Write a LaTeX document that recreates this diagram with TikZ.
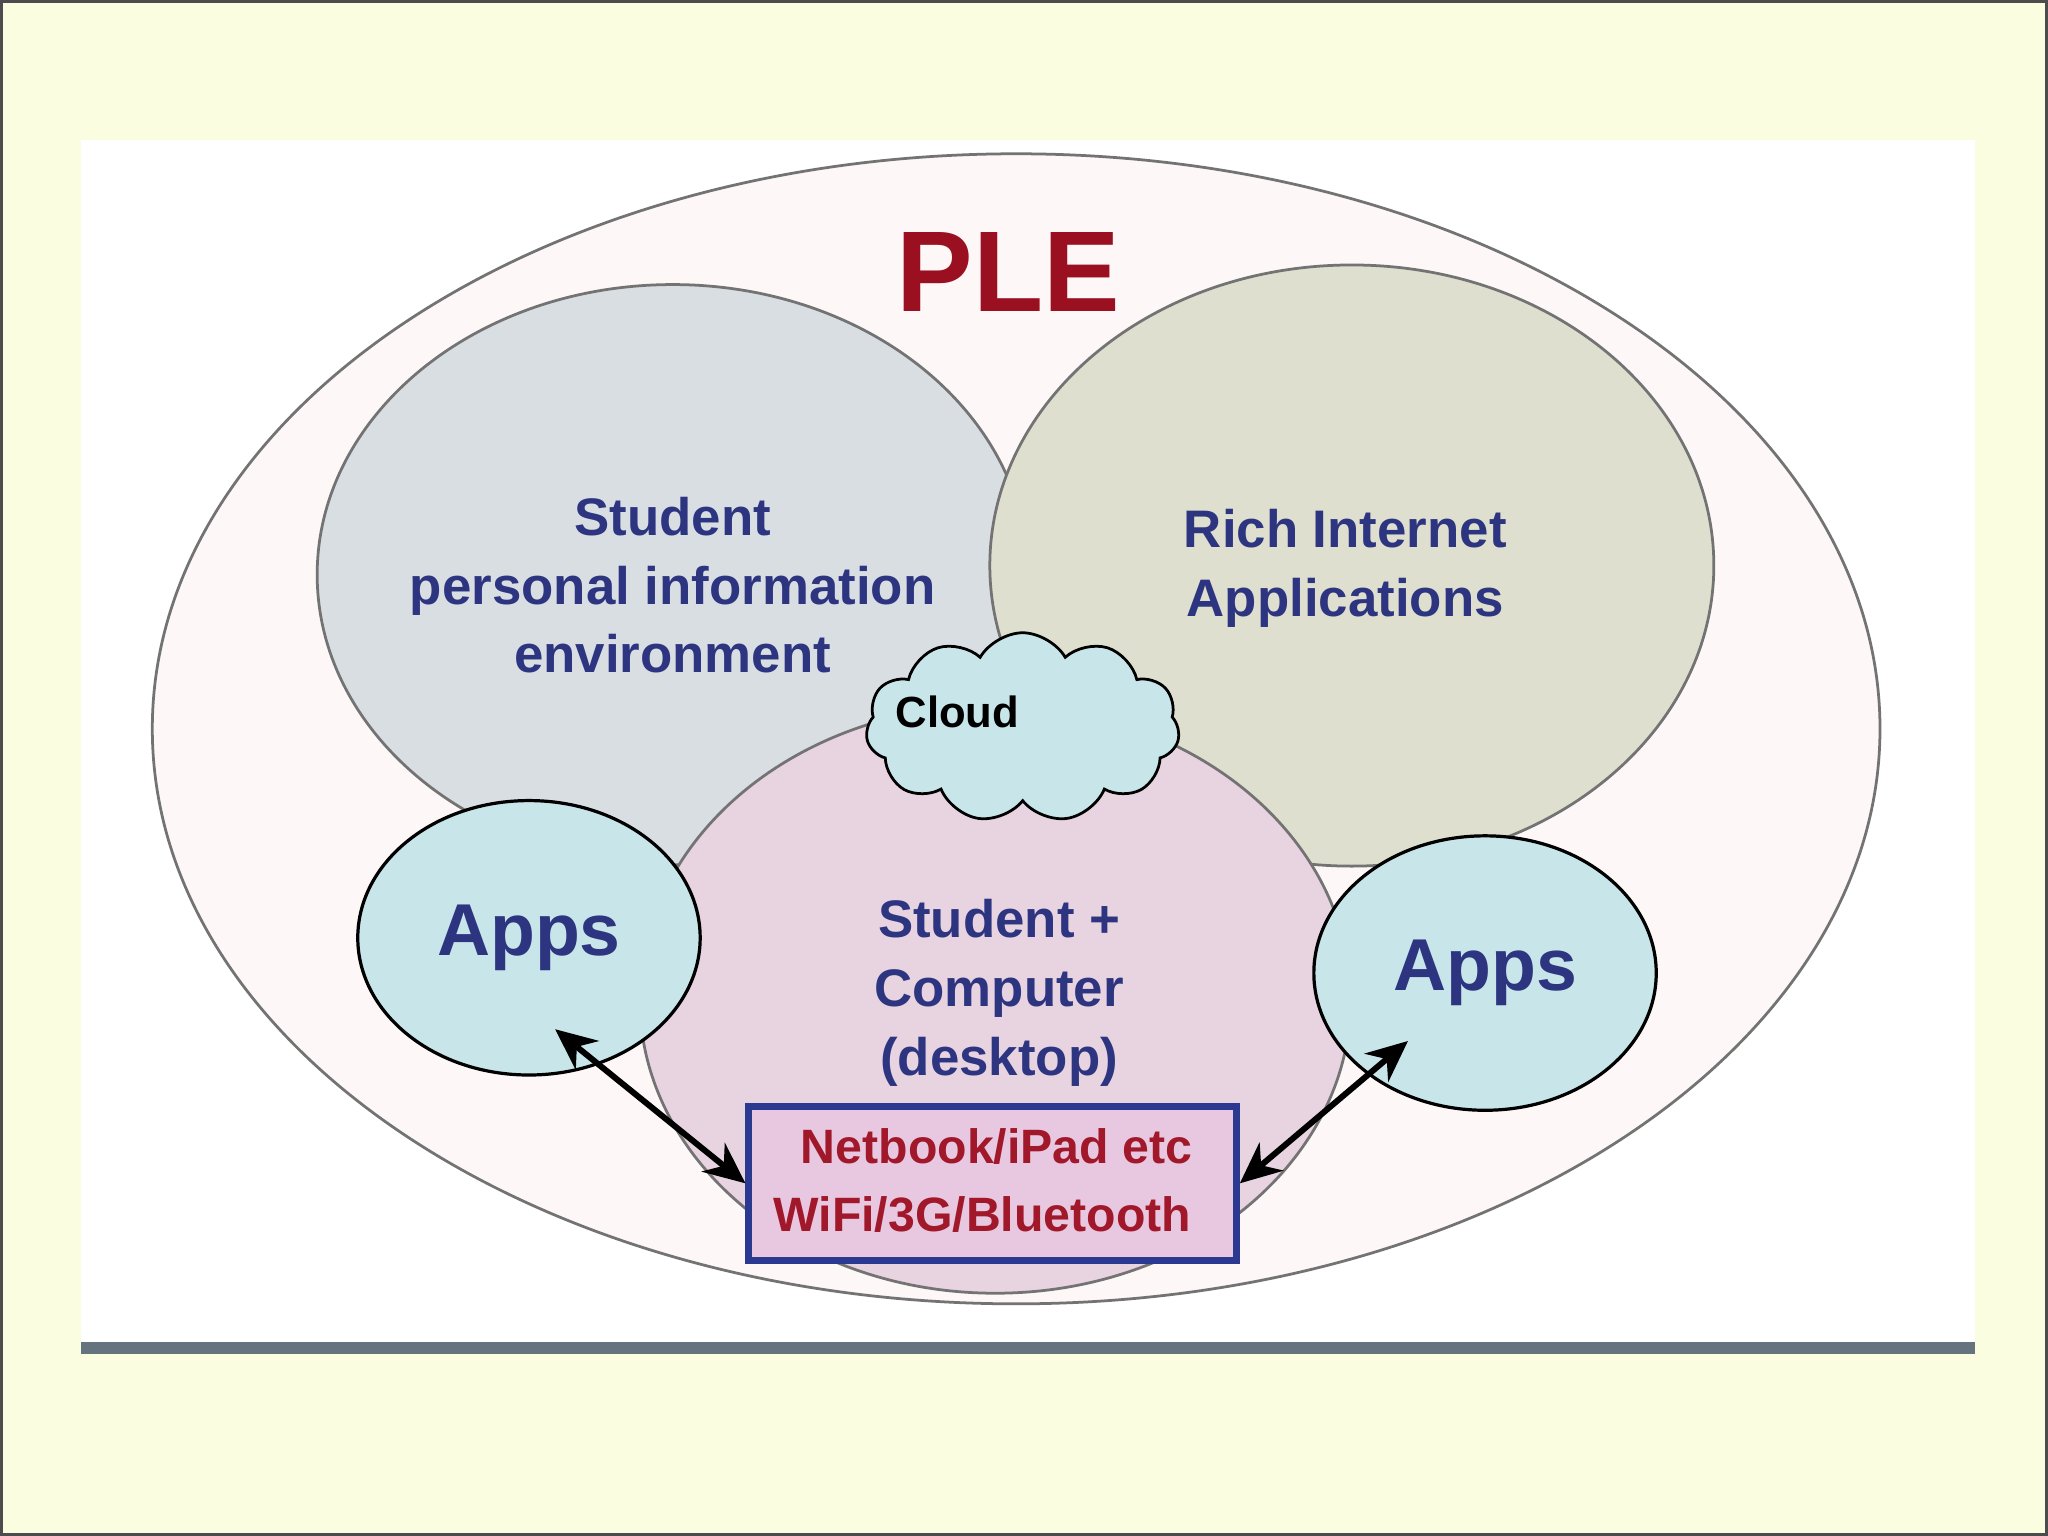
\documentclass[tikz,border=0pt]{standalone}
\usepackage{fontspec}
\setmainfont{Liberation Sans}
\usetikzlibrary{shapes.geometric,shapes.symbols,arrows.meta}
\definecolor{bg}{HTML}{FAFDE0}
\definecolor{txtblue}{HTML}{2E3580}
\definecolor{plered}{HTML}{9A1020}
\definecolor{boxred}{HTML}{A0182A}
\definecolor{appfill}{HTML}{C8E6EA}
\tikzset{
  blob/.style={ellipse,draw=black!55,line width=0.6pt,inner sep=0pt},
  appnode/.style={ellipse,draw=black,line width=0.7pt,fill=appfill,inner sep=0pt,minimum width=2.62cm,minimum height=2.1cm,font=\fontsize{16}{18}\selectfont\bfseries,text=txtblue},
  lbl/.style={font=\fontsize{11.5}{15}\selectfont\bfseries,text=txtblue,align=center},
  arr/.style={{Stealth[length=9pt,width=8pt]}-{Stealth[length=9pt,width=8pt]},line width=1.3pt}
}
\begin{document}
\begin{tikzpicture}[x=0.01cm,y=-0.01cm]
\useasboundingbox (0,0) rectangle (1568,1176);
\fill[bg] (0,0) rectangle (1568,1176);
\draw[black!70,line width=0.8pt] (1,1) rectangle (1567,1175);
\fill[white] (62,107) rectangle (1512,1030);
\draw[line width=2.5pt,color={rgb,255:red,100;green,115;blue,125}] (62,1032) -- (1512,1032);
\node[blob,fill={rgb,255:red,253;green,247;blue,247},minimum width=13.22cm,minimum height=8.8cm] (ple) at (778,558) {};
\node[font=\fontsize{25}{28}\selectfont\bfseries,text=plered] (pletxt) at (772,208) {PLE};
\node[blob,fill={rgb,255:red,217;green,222;blue,227},minimum width=5.44cm,minimum height=4.44cm] (spie) at (515,440) {};
\node[blob,fill={rgb,255:red,222;green,223;blue,207},minimum width=5.54cm,minimum height=4.6cm] (ria) at (1035,433) {};
\node[blob,fill={rgb,255:red,232;green,211;blue,224},minimum width=5.44cm,minimum height=4.5cm] (sc) at (762,765) {};
\node[lbl] (spiet) at (515,448) {Student\\personal information\\environment};
\node[lbl] (riat) at (1030,435) {Rich Internet\\Applications};
\node[lbl] (sct) at (765,760) {Student +\\Computer\\(desktop)};
\node[cloud,cloud puffs=11,cloud puff arc=120,aspect=1.6,draw=black,fill=appfill,line width=0.6pt,minimum width=2.4cm,minimum height=1.45cm] (cloud) at (783,557) {};
\node[font=\fontsize{9.5}{11}\selectfont\bfseries] (cloudt) at (733,545) {Cloud};
\node[appnode] (appl) at (405,718) {Apps};
\node[appnode] (appr) at (1137,745) {Apps};
\node[draw={rgb,255:red,43;green,57;blue,144},line width=1.5pt,fill={rgb,255:red,232;green,200;blue,224},minimum width=3.73cm,minimum height=1.18cm] (box) at (760,906) {};
\node[font=\fontsize{10.5}{12}\selectfont\bfseries,text=boxred] (b1) at (763,878) {Netbook/iPad etc};
\node[font=\fontsize{10.5}{12}\selectfont\bfseries,text=boxred] (b2) at (752,930) {WiFi/3G/Bluetooth};
\coordinate (al) at (425,788);
\coordinate (ar) at (1078,797);
\draw[arr] (al) -- (box.west);
\draw[arr] (ar) -- (box.east);
\end{tikzpicture}
\end{document}
